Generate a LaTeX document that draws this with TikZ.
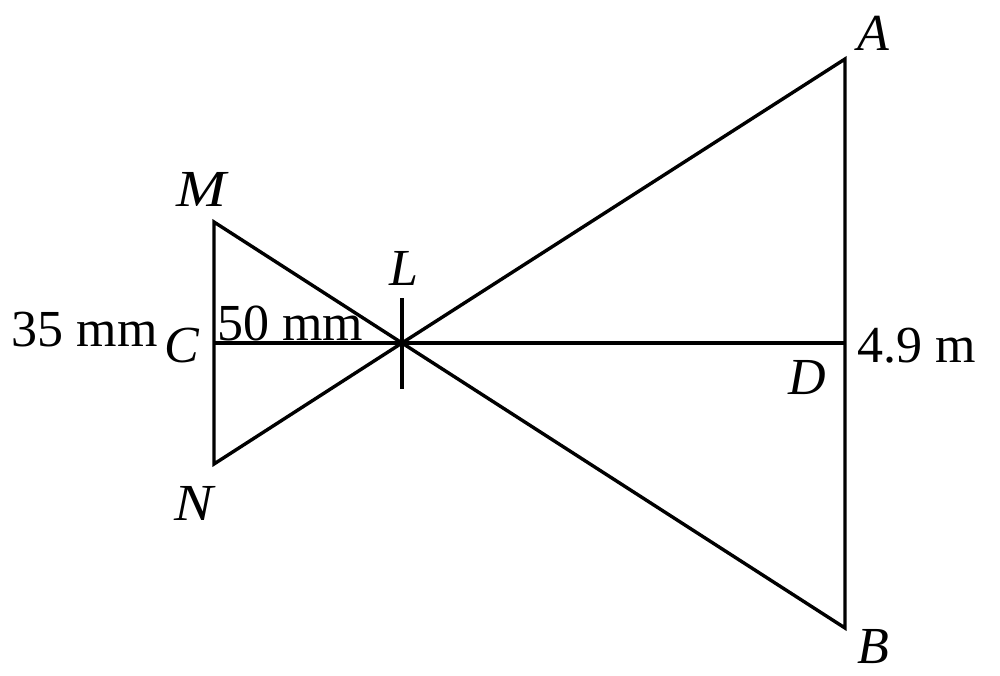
\documentclass[tikz,border=0pt]{standalone}
\usepackage{fontspec}
\setmainfont{Liberation Serif}
\begin{document}
\begin{tikzpicture}[x=1pt,y=-1pt,
  lbl/.style={inner sep=0pt,font=\fontsize{52}{52}\selectfont\itshape},
  txt/.style={inner sep=0pt,font=\fontsize{52}{52}\selectfont},
  edge/.style={line width=3.4pt,line join=miter}]
\useasboundingbox (0,0) rectangle (1000,675);
\coordinate (A) at (845,59);
\coordinate (B) at (845,628);
\coordinate (M) at (214,222);
\coordinate (N) at (214,464);
\coordinate (C) at (214,343);
\coordinate (D) at (845,343);
\coordinate (L) at (402,343);
\coordinate (T) at (402,298);
\coordinate (U) at (402,389);
\draw[edge] (L) -- (A) -- (B) -- cycle;
\draw[edge] (L) -- (M) -- (N) -- cycle;
\draw[edge] (C) -- (D);
\draw[edge] (T) -- (U);
\node[lbl] (a) at (873,33) {A};
\node[lbl] (b) at (873,646.5) {B};
\node[lbl] (m) at (201,189.5) {\scalebox{1.15}[1]{M}};
\node[lbl] (n) at (194,503) {\scalebox{1.12}[1]{N}};
\node[lbl] (c) at (182,346) {C};
\node[lbl] (d) at (807.5,377.5) {D};
\node[lbl] (l) at (404,268.5) {L};
\node[txt] (t1) at (84.5,330) {35 mm};
\node[txt] (t2) at (290,323.5) {50 mm};
\node[txt] (t3) at (917,345.5) {4.9 m};
\end{tikzpicture}
\end{document}
